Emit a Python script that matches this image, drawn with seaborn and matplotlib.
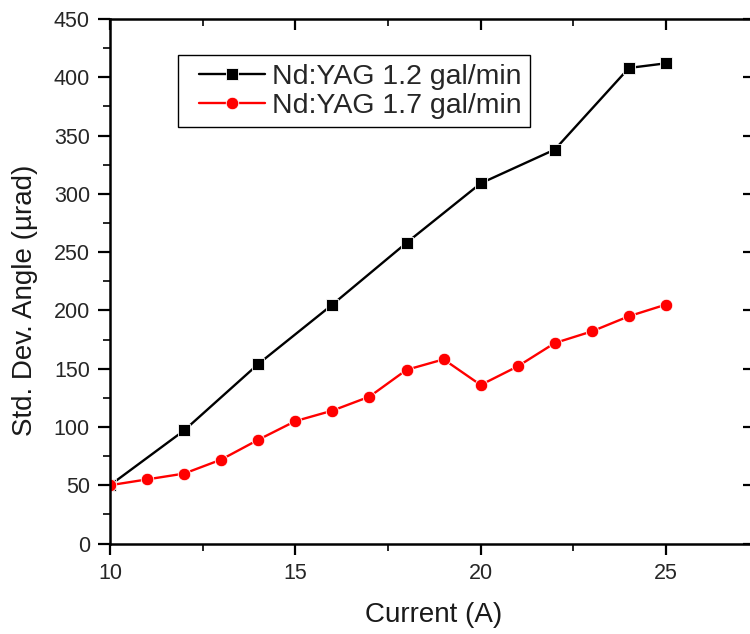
import numpy as np
import pandas as pd
import matplotlib
matplotlib.use("Agg")
import matplotlib.pyplot as plt
from matplotlib.ticker import MultipleLocator
from matplotlib.lines import Line2D
from matplotlib.legend_handler import HandlerLine2D
import seaborn as sns

# Measured standard deviation of the beam deflection angle vs. lamp current
current_12 = [10, 12, 14, 16, 18, 20, 22, 24, 25]
angle_12 = [50, 97, 154, 205, 258, 309, 338, 408, 412]

current_17 = [10, 11, 12, 13, 14, 15, 16, 17, 18, 19, 20, 21, 22, 23, 24, 25]
angle_17 = [50, 55, 60, 72, 89, 105, 114, 126, 149, 158, 136, 152, 172, 182, 195, 205]

series_names = ["Nd:YAG 1.2 gal/min", "Nd:YAG 1.7 gal/min"]
series_colors = ["#000000", "#ff0000"]
series_markers = ["s", "o"]

x_label = "Current (A)"
y_label = "Std. Dev. Angle (\u00b5rad)"
x_ticks = [10, 15, 20, 25]
y_ticks = [0, 50, 100, 150, 200, 250, 300, 350, 400, 450]

df = pd.concat([
    pd.DataFrame({"Current": current_12, "Angle": angle_12, "Series": series_names[0]}),
    pd.DataFrame({"Current": current_17, "Angle": angle_17, "Series": series_names[1]}),
], ignore_index=True)

sns.set_theme(style="ticks")
plt.rcParams["font.family"] = ["Liberation Sans", "DejaVu Sans"]

fig = plt.figure(figsize=(7.5, 6.34), dpi=100)
ax = fig.add_axes([110 / 750, 1 - 543.5 / 634, 645 / 750, 524.5 / 634])

sns.lineplot(
    data=df, x="Current", y="Angle", hue="Series", style="Series",
    palette=series_colors, markers=series_markers, dashes=False,
    markersize=9, markeredgewidth=0.6, linewidth=1.7, ax=ax,
    hue_order=series_names, style_order=series_names,
)

ax.set_xlim(10, 27.4)
ax.set_ylim(0, 450)
ax.set_xticks(x_ticks)
ax.set_yticks(y_ticks)
ax.xaxis.set_minor_locator(MultipleLocator(2.5))
ax.yaxis.set_minor_locator(MultipleLocator(25))

for side in ["left", "bottom", "top", "right"]:
    ax.spines[side].set_visible(True)
    ax.spines[side].set_linewidth(1.8)
    ax.spines[side].set_color("black")

tick_color = "#262626"
ax.tick_params(axis="both", which="major", labelsize=15.5, labelcolor=tick_color,
               width=1.6, color="black")
ax.tick_params(axis="x", which="major", direction="out", length=8, pad=6,
               top=True)
ax.tick_params(axis="x", which="minor", direction="out", length=5, width=1.4,
               top=True)
ax.tick_params(axis="y", which="major", direction="out", length=8.5, pad=6,
               right=True)
ax.tick_params(axis="y", which="minor", direction="out", length=5, width=1.4)

# top and right ticks point into the plot; right side carries only major ticks
for t in ax.xaxis.get_major_ticks() + ax.xaxis.get_minor_ticks():
    t.tick2line.set_marker(3)  # TICKDOWN
for t in ax.yaxis.get_major_ticks():
    t.tick2line.set_marker(0)  # TICKLEFT
for t in ax.yaxis.get_minor_ticks():
    t.tick2line.set_visible(False)

ax.set_xlabel(x_label, fontsize=20, color="#1a1a1a")
ax.set_ylabel(y_label, fontsize=20, color="#1a1a1a")
ax.xaxis.set_label_coords((434 - 110) / 645, (543.5 - 615) / 524.5)
ax.xaxis.label.set_verticalalignment("center")
ax.yaxis.set_label_coords((25 - 110) / 645, (543.5 - 300) / 524.5)
ax.yaxis.label.set_verticalalignment("center")

handles, labels = ax.get_legend_handles_labels()
leg = ax.legend(
    handles, labels, loc="upper left",
    bbox_to_anchor=((178 - 110) / 645, (543.5 - 55) / 524.5),
    borderaxespad=0, fontsize=20.5, frameon=True, fancybox=False,
    framealpha=1, edgecolor="black", handlelength=2.75, handletextpad=0.25,
    borderpad=0.3, labelspacing=0.12,
    handler_map={Line2D: HandlerLine2D(xpad=0.45)},
)
leg.get_frame().set_linewidth(1.0)

fig.savefig("out.png", dpi=100)
